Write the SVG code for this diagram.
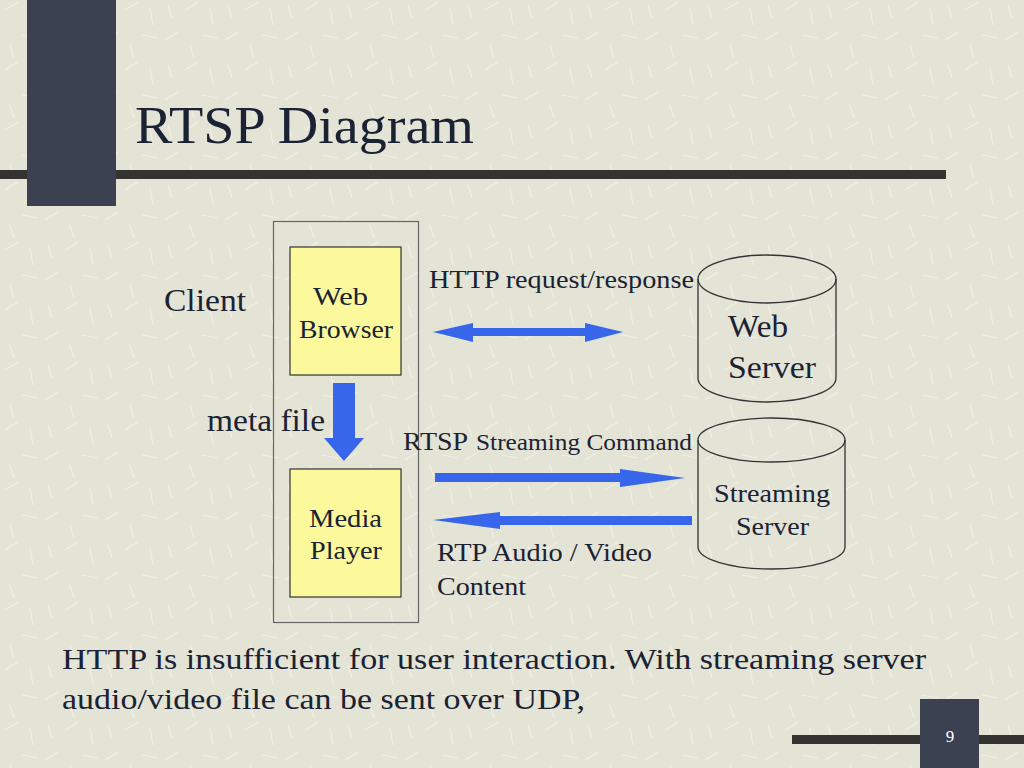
<svg xmlns="http://www.w3.org/2000/svg" width="1024" height="768" viewBox="0 0 1024 768">
<defs>
<style>
.t{font-family:"Liberation Serif","Times New Roman",serif;fill:#1a2233}
.box{fill:#fbf99c;stroke:#333;stroke-width:1.2}
.cyl{fill:none;stroke:#333;stroke-width:1.3}
.arr{fill:#3766ea}
</style>
<pattern id="tex" width="60" height="60" patternUnits="userSpaceOnUse">
<g stroke="#f4f4ec" stroke-width="1.2" opacity="0.7">
<line x1="5" y1="10" x2="18" y2="2"/><line x1="30" y1="8" x2="33" y2="25"/><line x1="45" y1="40" x2="58" y2="32"/>
<line x1="10" y1="45" x2="14" y2="58"/><line x1="22" y1="35" x2="38" y2="38"/><line x1="48" y1="5" x2="52" y2="18"/>
</g>
</pattern>
</defs>
<rect width="1024" height="768" fill="#e3e3d6"/>
<rect width="1024" height="768" fill="url(#tex)"/>
<rect x="0" y="170" width="946" height="9" fill="#333331"/>
<rect x="27" y="0" width="89" height="206" fill="#3b4150"/>
<text class="t" x="135" y="143" font-size="52" textLength="339" lengthAdjust="spacingAndGlyphs" fill="#333">RTSP Diagram</text>

<g id="client-group">
<rect x="273.5" y="221.5" width="145" height="401" fill="none" stroke="#666" stroke-width="1.2"/>
<text class="t" x="164" y="311" font-size="31" textLength="82" lengthAdjust="spacingAndGlyphs">Client</text>
</g>
<g id="web-browser">
<rect class="box" x="290" y="247" width="111" height="128"/>
<text class="t" x="313" y="305" font-size="26" textLength="55" lengthAdjust="spacingAndGlyphs">Web</text>
<text class="t" x="299" y="338" font-size="26" textLength="94" lengthAdjust="spacingAndGlyphs">Browser</text>
</g>
<g id="media-player">
<rect class="box" x="290" y="469" width="111" height="128"/>
<text class="t" x="309" y="527" font-size="26" textLength="73" lengthAdjust="spacingAndGlyphs">Media</text>
<text class="t" x="310" y="559" font-size="26" textLength="72" lengthAdjust="spacingAndGlyphs">Player</text>
</g>
<g id="web-server">
<path class="cyl" d="M698,279 L698,378 A69,24 0 0 0 836,378 L836,279"/>
<ellipse class="cyl" cx="767" cy="279" rx="69" ry="24"/>
<text class="t" x="728" y="337" font-size="31" textLength="60" lengthAdjust="spacingAndGlyphs">Web</text>
<text class="t" x="728" y="378" font-size="31" textLength="88" lengthAdjust="spacingAndGlyphs">Server</text>
</g>
<g id="streaming-server">
<path class="cyl" d="M698,440 L698,547 A73.5,22 0 0 0 845,547 L845,440"/>
<ellipse class="cyl" cx="771.5" cy="440" rx="73.5" ry="22"/>
<text class="t" x="714" y="502" font-size="26" textLength="116" lengthAdjust="spacingAndGlyphs">Streaming</text>
<text class="t" x="736" y="535" font-size="26" textLength="73" lengthAdjust="spacingAndGlyphs">Server</text>
</g>

<g id="connectors">
<polygon class="arr" points="333,383 355,383 355,438 364,438 344,461 324,438 333,438"/>
<polygon class="arr" points="433,332 473,323 473,328 585,328 585,323 623,332 585,342 585,336 473,336 473,342"/>
<polygon class="arr" points="435,473 620,473 620,469 685,478 620,487 620,482 435,482"/>
<polygon class="arr" points="692,516 500,516 500,512 433,520 500,529 500,525 692,525"/>
</g>
<g id="labels">
<text class="t" x="207" y="431" font-size="31" textLength="118" lengthAdjust="spacingAndGlyphs">meta file</text>
<text class="t" x="429" y="288" font-size="25" textLength="265" lengthAdjust="spacingAndGlyphs">HTTP request/response</text>
<text class="t" x="403" y="450" font-size="26" textLength="65" lengthAdjust="spacingAndGlyphs">RTSP</text>
<text class="t" x="476" y="450" font-size="23" textLength="216" lengthAdjust="spacingAndGlyphs">Streaming Command</text>
<text class="t" x="437" y="561" font-size="26" textLength="215" lengthAdjust="spacingAndGlyphs">RTP Audio / Video</text>
<text class="t" x="437" y="595" font-size="26" textLength="89" lengthAdjust="spacingAndGlyphs">Content</text>
</g>
<text class="t" x="62" y="669" font-size="30" textLength="864" lengthAdjust="spacingAndGlyphs">HTTP is insufficient for user interaction. With streaming server</text>
<text class="t" x="62" y="709" font-size="30" textLength="523" lengthAdjust="spacingAndGlyphs">audio/video file can be sent over UDP,</text>

<rect x="792" y="735" width="232" height="9" fill="#333331"/>
<rect x="920" y="699" width="59" height="69" fill="#3b4150"/>
<text x="950" y="742" font-size="17" text-anchor="middle" fill="#fff" font-family="Liberation Serif, serif">9</text>
</svg>
